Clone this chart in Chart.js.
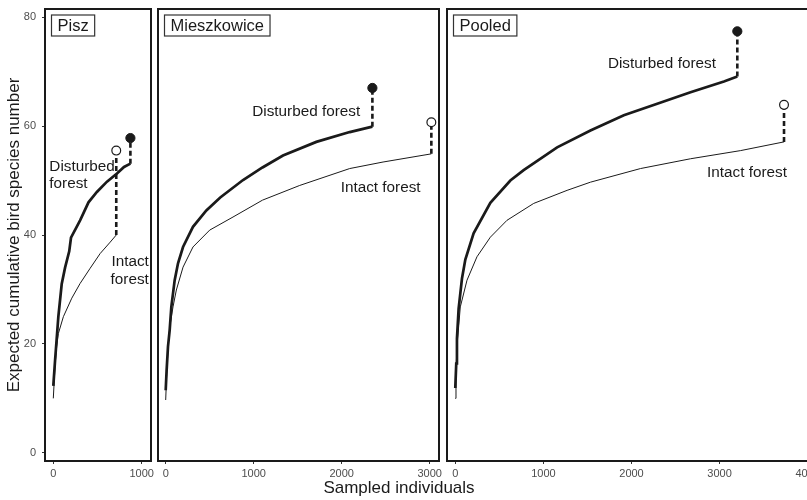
<!DOCTYPE html>
<html>
<head>
<meta charset="utf-8">
<script src="https://cdn.jsdelivr.net/npm/chart.js@4.4.1/dist/chart.umd.min.js"></script>
<style>
  html, body { margin: 0; padding: 0; background: #fff; overflow: hidden; }
  #wrap { position: relative; width: 807px; height: 500px; overflow: hidden; }
  canvas { position: absolute; top: 0; }
  #xtitle { position: absolute; left: 249px; width: 300px; top: 478px; text-align: center;
            font: 17px "Liberation Sans", Arial, sans-serif; line-height: 20px; color: #1a1a1a; }
</style>
</head>
<body>
<div id="wrap">
  <canvas id="pisz" width="154" height="500" style="left:0px"></canvas>
  <canvas id="miesz" width="288" height="500" style="left:155px"></canvas>
  <canvas id="pooled" width="380" height="500" style="left:443px"></canvas>
  <div id="xtitle">Sampled individuals</div>
</div>
<script>
const panelNames = ['Pisz', 'Mieszkowice', 'Pooled'];

// curvas de rarefacao (individuos amostrados x especies esperadas)
const piszDisturbedN = [0, 20, 57, 95, 133, 180, 200, 303, 398, 493, 607, 720, 800, 872];
const piszDisturbedS = [12.3, 17, 25, 31, 34, 37, 39.5, 42.7, 46, 47.9, 49.8, 51.3, 52.5, 53.1];
const piszIntactN = [0, 19, 38, 57, 114, 209, 303, 417, 530, 644, 712];
const piszIntactS = [10, 15.8, 19.5, 21.9, 25, 28.4, 31.1, 33.9, 36.6, 38.7, 40];

const mieszDisturbedN = [0, 10, 26, 45, 64, 102, 140, 197, 310, 462, 620, 879, 1100, 1333, 1712, 2091, 2349];
const mieszDisturbedS = [11.5, 15, 19.5, 22.5, 26.8, 31.7, 34.8, 37.8, 41.5, 44.5, 46.9, 50.1, 52.4, 54.6, 57.1, 58.9, 59.9];
const mieszIntactN = [0, 10, 26, 45, 83, 121, 197, 310, 500, 765, 1100, 1523, 2091, 2470, 3019];
const mieszIntactS = [9.7, 14, 19, 23, 26.8, 29.9, 34.1, 37.8, 40.9, 43.3, 46.4, 49.1, 52.2, 53.4, 54.9];

const pooledDisturbedN = [0, 11, 19, 38, 76, 114, 208, 398, 625, 776, 1156, 1534, 1913, 2292, 2670, 3049, 3201];
const pooledDisturbedS = [11.9, 16.4, 21, 26.5, 32, 35.5, 40.3, 45.9, 50, 51.9, 56.1, 59.2, 62, 64.1, 66.2, 68.2, 69.1];
const pooledIntactN = [0, 8, 19, 57, 133, 246, 398, 587, 890, 1269, 1534, 2102, 2670, 3239, 3731];
const pooledIntactS = [10, 15, 19.5, 26.8, 31.7, 36, 39.6, 42.7, 45.8, 48.2, 49.7, 52.2, 54, 55.5, 57.1];

// riqueza estimada (pontos no fim da linha tracejada)
const disturbedEstimate = [57.8, 67.0, 77.4];
const intactEstimate = [55.5, 60.7, 63.9];

const yTicks = [0, 20, 40, 60, 80];
const piszXTicks = [0, 1000];
const mieszXTicks = [0, 1000, 2000, 3000];
const pooledXTicks = [0, 1000, 2000, 3000, 4000];

const fonte = '"Liberation Sans", Arial, sans-serif';
const preto = '#1a1a1a';

function pontos(ns, ss) {
  return ns.map((n, i) => ({ x: n, y: ss[i] }));
}

const moldura = {
  id: 'moldura',
  afterDraw(chart, args, opts) {
    const { ctx, chartArea: a, scales } = chart;
    ctx.save();
    ctx.strokeStyle = preto;
    ctx.lineWidth = 2;
    ctx.strokeRect(a.left, a.top, a.right - a.left, a.bottom - a.top);

    // etiqueta do painel
    ctx.font = '16.5px ' + fonte;
    const tw = ctx.measureText(opts.titulo).width;
    const bx = a.left + 6.5, by = a.top + 6, bw = tw + 12, bh = 21;
    ctx.lineWidth = 1.2;
    ctx.strokeStyle = '#333';
    ctx.strokeRect(bx, by, bw, bh);
    ctx.fillStyle = preto;
    ctx.textBaseline = 'middle';
    ctx.textAlign = 'left';
    ctx.fillText(opts.titulo, bx + 6, by + bh / 2 + 0.5);

    // rotulos das curvas
    ctx.font = '15.3px ' + fonte;
    opts.rotulos.forEach(r => {
      const px = scales.x.getPixelForValue(r.x);
      const py = scales.y.getPixelForValue(r.y);
      ctx.textAlign = r.align;
      const n = r.linhas.length;
      r.linhas.forEach((t, i) => ctx.fillText(t, px, py + (i - (n - 1) / 2) * 17.5));
    });
    ctx.restore();
  }
};

function montaPainel(id, p) {
  const ld = p.dN.length - 1;
  const li = p.iN.length - 1;
  const datasets = [
    { data: [{ x: p.dN[ld], y: p.dEst }], showLine: false, pointRadius: 4.6,
      pointBackgroundColor: preto, pointBorderColor: preto, pointBorderWidth: 1, order: 0 },
    { data: [{ x: p.iN[li], y: p.iEst }], showLine: false, pointRadius: 4.4,
      pointBackgroundColor: '#fff', pointBorderColor: preto, pointBorderWidth: 1.2, order: 0 },
    { data: [{ x: p.dN[ld], y: p.dS[ld] }, { x: p.dN[ld], y: p.dEst }], borderColor: preto,
      borderWidth: 2.6, borderDash: [5, 3], pointRadius: 0, order: 1 },
    { data: [{ x: p.iN[li], y: p.iS[li] }, { x: p.iN[li], y: p.iEst }], borderColor: preto,
      borderWidth: 2.6, borderDash: [5, 3], pointRadius: 0, order: 1 },
    { data: pontos(p.dN, p.dS), borderColor: preto, borderWidth: 2.7, pointRadius: 0, order: 2 },
    { data: pontos(p.iN, p.iS), borderColor: preto, borderWidth: 1, pointRadius: 0, order: 2 }
  ];

  return new Chart(document.getElementById(id), {
    type: 'line',
    data: { datasets },
    plugins: [moldura],
    options: {
      responsive: false,
      animation: false,
      devicePixelRatio: 1,
      layout: { padding: p.padding, autoPadding: false },
      elements: { line: { tension: 0, borderCapStyle: 'butt' } },
      plugins: {
        legend: { display: false },
        tooltip: { enabled: false },
        moldura: { titulo: p.titulo, rotulos: p.rotulos }
      },
      scales: {
        x: {
          type: 'linear', min: p.xMin, max: p.xMax,
          afterBuildTicks: s => { s.ticks = p.xTicks.map(v => ({ value: v })); },
          afterFit: s => { s.height = 39; s.paddingLeft = 0; s.paddingRight = 0; },
          border: { display: false },
          grid: { drawOnChartArea: false, tickLength: 3, color: '#333', lineWidth: 1 },
          ticks: { color: '#4d4d4d', font: { size: 11, family: fonte }, padding: 3,
                   maxRotation: 0, autoSkip: false, callback: v => String(v) }
        },
        y: {
          type: 'linear', min: -1.5, max: 81.5, display: p.mostraY,
          afterBuildTicks: s => { s.ticks = yTicks.map(v => ({ value: v })); },
          afterFit: s => {
            if (p.mostraY) s.width = 45;
            s.paddingTop = 0;
            s.paddingBottom = 0;
          },
          border: { display: false },
          grid: { drawOnChartArea: false, tickLength: 3, color: '#333', lineWidth: 1 },
          ticks: { color: '#4d4d4d', font: { size: 11, family: fonte }, padding: 6,
                   callback: v => String(v) },
          title: { display: true, text: 'Expected cumulative bird species number', color: preto,
                   font: { size: 17, family: fonte }, padding: { top: 4, bottom: 0 } }
        }
      }
    }
  });
}

montaPainel('pisz', {
  titulo: panelNames[0], mostraY: true,
  dN: piszDisturbedN, dS: piszDisturbedS, iN: piszIntactN, iS: piszIntactS,
  dEst: disturbedEstimate[0], iEst: intactEstimate[0],
  xMin: -94, xMax: 1105, xTicks: piszXTicks,
  padding: { top: 9, right: 3, bottom: 0, left: 0 },
  rotulos: [
    { linhas: ['Disturbed', 'forest'], x: -45, y: 51, align: 'left' },
    { linhas: ['Intact', 'forest'], x: 1080, y: 33.4, align: 'right' }
  ]
});

montaPainel('miesz', {
  titulo: panelNames[1], mostraY: false,
  dN: mieszDisturbedN, dS: mieszDisturbedS, iN: mieszIntactN, iS: mieszIntactS,
  dEst: disturbedEstimate[1], iEst: intactEstimate[1],
  xMin: -87.5, xMax: 3106, xTicks: mieszXTicks,
  padding: { top: 9, right: 4, bottom: 0, left: 3 },
  rotulos: [
    { linhas: ['Disturbed forest'], x: 1597, y: 62.6, align: 'center' },
    { linhas: ['Intact forest'], x: 2443, y: 48.7, align: 'center' }
  ]
});

montaPainel('pooled', {
  titulo: panelNames[2], mostraY: false,
  dN: pooledDisturbedN, dS: pooledDisturbedS, iN: pooledIntactN, iS: pooledIntactS,
  dEst: disturbedEstimate[2], iEst: intactEstimate[2],
  xMin: -94, xMax: 4094, xTicks: pooledXTicks,
  padding: { top: 9, right: 7, bottom: 0, left: 4 },
  rotulos: [
    { linhas: ['Disturbed forest'], x: 2345, y: 71.4, align: 'center' },
    { linhas: ['Intact forest'], x: 3310, y: 51.4, align: 'center' }
  ]
});
</script>
</body>
</html>
